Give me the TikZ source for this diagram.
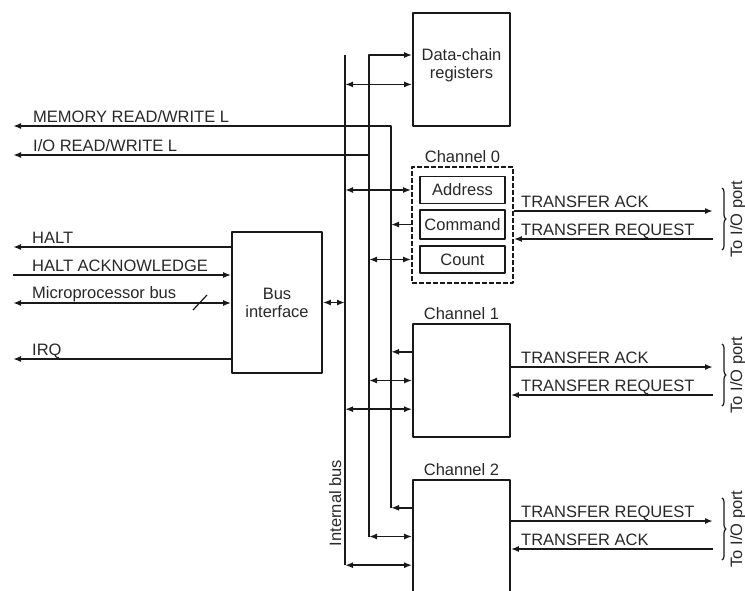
\documentclass[tikz,border=0pt]{standalone}
\usepackage{fontspec}
\setmainfont{Liberation Sans}
\usepackage{tikz}
\usetikzlibrary{arrows.meta,positioning,fit,calc,decorations.pathreplacing}
\definecolor{dmedge}{RGB}{25,25,25}
\definecolor{dmtext}{RGB}{40,40,40}
\tikzset{
  dmbox/.style={
    draw=dmedge, line width=1.7pt, fill=white,
    align=center, inner sep=2pt, text=dmtext
  },
  chbox/.style={dmbox, minimum width=97pt, minimum height=113pt},
  reg/.style={dmbox, minimum width=85pt, minimum height=27pt},
  grp/.style={
    draw=dmedge, line width=2pt, dash pattern=on 4.5pt off 2.5pt,
    inner xsep=7pt, inner ysep=9pt
  },
  wire/.style={draw=dmedge, line width=1.7pt},
  arr/.style={wire, -{Latex[length=8pt,width=6pt]}},
  darr/.style={wire, {Latex[length=8pt,width=6pt]}-{Latex[length=8pt,width=6pt]}},
  sig/.style={anchor=base west, inner sep=0pt, text=dmtext},
  lab/.style={text=dmtext, inner sep=0pt, label distance=3pt},
  port/.style={rotate=90, anchor=base, inner sep=0pt, text=dmtext},
  brc/.style={draw=dmedge, line width=1.2pt, decorate, decoration={brace, amplitude=4pt}},
  every picture/.append style={font=\fontsize{16.5}{18}\selectfont, line join=round}
}

\begin{document}
\begin{tikzpicture}[x=1pt,y=-1pt]
  \useasboundingbox (0,0) rectangle (745,590);
  \clip (0,0) rectangle (745,590);
  \fill[white] (0,0) rectangle (745,590);

  % blocks
  \node[dmbox, minimum width=97pt, minimum height=113pt] (dcr) at (461.5,69.5) {Data-chain\\registers\\[-7pt]};
  \node[reg] (adr) at (462.5,190) {Address};
  \node[reg, minimum height=29pt] (cmd) at (462.5,224.5) {Command};
  \node[reg] (cnt) at (462.5,259.5) {Count};
  \node[grp, fit=(adr)(cmd)(cnt), label={[lab]above:Channel 0}] (ch0) {};
  \node[chbox, label={[lab]above:Channel 1}] (ch1) at (461.5,380.5) {};
  \node[chbox, label={[lab]above:Channel 2}] (ch2) at (461.5,536.5) {};
  \node[dmbox, minimum width=90pt, minimum height=141pt] (bif) at (277,302.5) {Bus\\interface};

  \foreach \c in {ch1,ch2} {
    \coordinate (\c-q1) at ($(\c.north west)!.25!(\c.south west)$);
    \coordinate (\c-q2) at ($(\c.north west)!.5!(\c.south west)$);
    \coordinate (\c-q3) at ($(\c.north west)!.75!(\c.south west)$);
  }

  % the three vertical lines
  \coordinate (aTop) at (345,55);
  \coordinate (bTop) at (369,55);
  \coordinate (cTop) at (391,126);
  \coordinate (aBot) at (aTop |- ch2-q3);
  \coordinate (bBot) at (bTop |- ch2-q2);
  \coordinate (cBot) at (cTop |- ch2-q1);
  \coordinate (dcrIn) at ($(dcr.north west)!.63!(dcr.south west)$);

  \draw[wire] (aTop) -- (aBot);
  \draw[arr] (bBot) -- (bTop) -- (dcr.west |- bTop);
  \draw[darr] (aTop |- dcrIn) -- (dcrIn);

  % channel 0
  \draw[darr] (aTop |- adr) -- (ch0.west |- adr);
  \draw[arr] (ch0.west |- cmd) -- (cTop |- cmd);
  \draw[darr] (bTop |- cnt) -- (ch0.west |- cnt);
  % channel 1
  \draw[arr] (ch1-q1) -- (cTop |- ch1-q1);
  \draw[darr] (bTop |- ch1-q2) -- (ch1-q2);
  \draw[darr] (aTop |- ch1-q3) -- (ch1-q3);
  % channel 2
  \draw[arr] (ch2-q1) -- (cBot);
  \draw[darr] (bBot) -- (ch2-q2);
  \draw[darr] (aBot) -- (ch2-q3);

  % processor side
  \coordinate (memL) at (13,126);
  \coordinate (ioL) at (13,155);
  \coordinate (haltL) at (13,247);
  \coordinate (hackL) at (13,275);
  \coordinate (mbusL) at (13,303);
  \coordinate (irqL) at (13,359);

  \draw[arr] (cBot) -- (cTop) -- (memL);
  \draw[arr] (bTop |- ioL) -- (ioL);
  \draw[darr] (bif.east) -- (aTop |- bif.east);
  \draw[arr] (bif.west |- haltL) -- (haltL);
  \draw[arr] (hackL) -- (bif.west |- hackL);
  \draw[darr] (mbusL) -- (bif.west |- mbusL);
  \draw[arr] (bif.west |- irqL) -- (irqL);
  \draw[wire, line width=1.2pt] (193,310) -- (207,295);

  \node[sig] (tMem) at (33,122) {MEMORY READ/WRITE L};
  \node[sig] (tIo) at (33,151) {I/O READ/WRITE L};
  \node[sig] (tHalt) at (32,243) {HALT};
  \node[sig] (tHack) at (32,271) {HALT ACKNOWLEDGE};
  \node[sig] (tMbus) at (32,298) {Microprocessor bus};
  \node[sig] (tIrq) at (32,355) {IRQ};
  \node[port] (tIbus) at (341,503) {Internal bus};

  % I/O port side
  \foreach \c/\ya/\yb/\ta/\tb in {ch0/211/239/TRANSFER ACK/TRANSFER REQUEST,
      ch1/367/395/TRANSFER ACK/TRANSFER REQUEST,
      ch2/521/549/TRANSFER REQUEST/TRANSFER ACK} {
    \coordinate (\c-o) at (713,\ya);
    \coordinate (\c-i) at (713,\yb);
    \draw[arr] (\c.east |- \c-o) -- (\c-o);
    \draw[arr] (\c-i) -- (\c.east |- \c-i);
    \node[sig] (\c-ta) at (521,\ya-4) {\ta};
    \node[sig] (\c-tb) at (521,\yb-4) {\tb};
    \draw[brc] (722,\ya-23) -- (722,\yb+11);
    \node[port] (\c-port) at (742,{(\ya+\yb)/2-6}) {To I/O port};
  }
\end{tikzpicture}
\end{document}
